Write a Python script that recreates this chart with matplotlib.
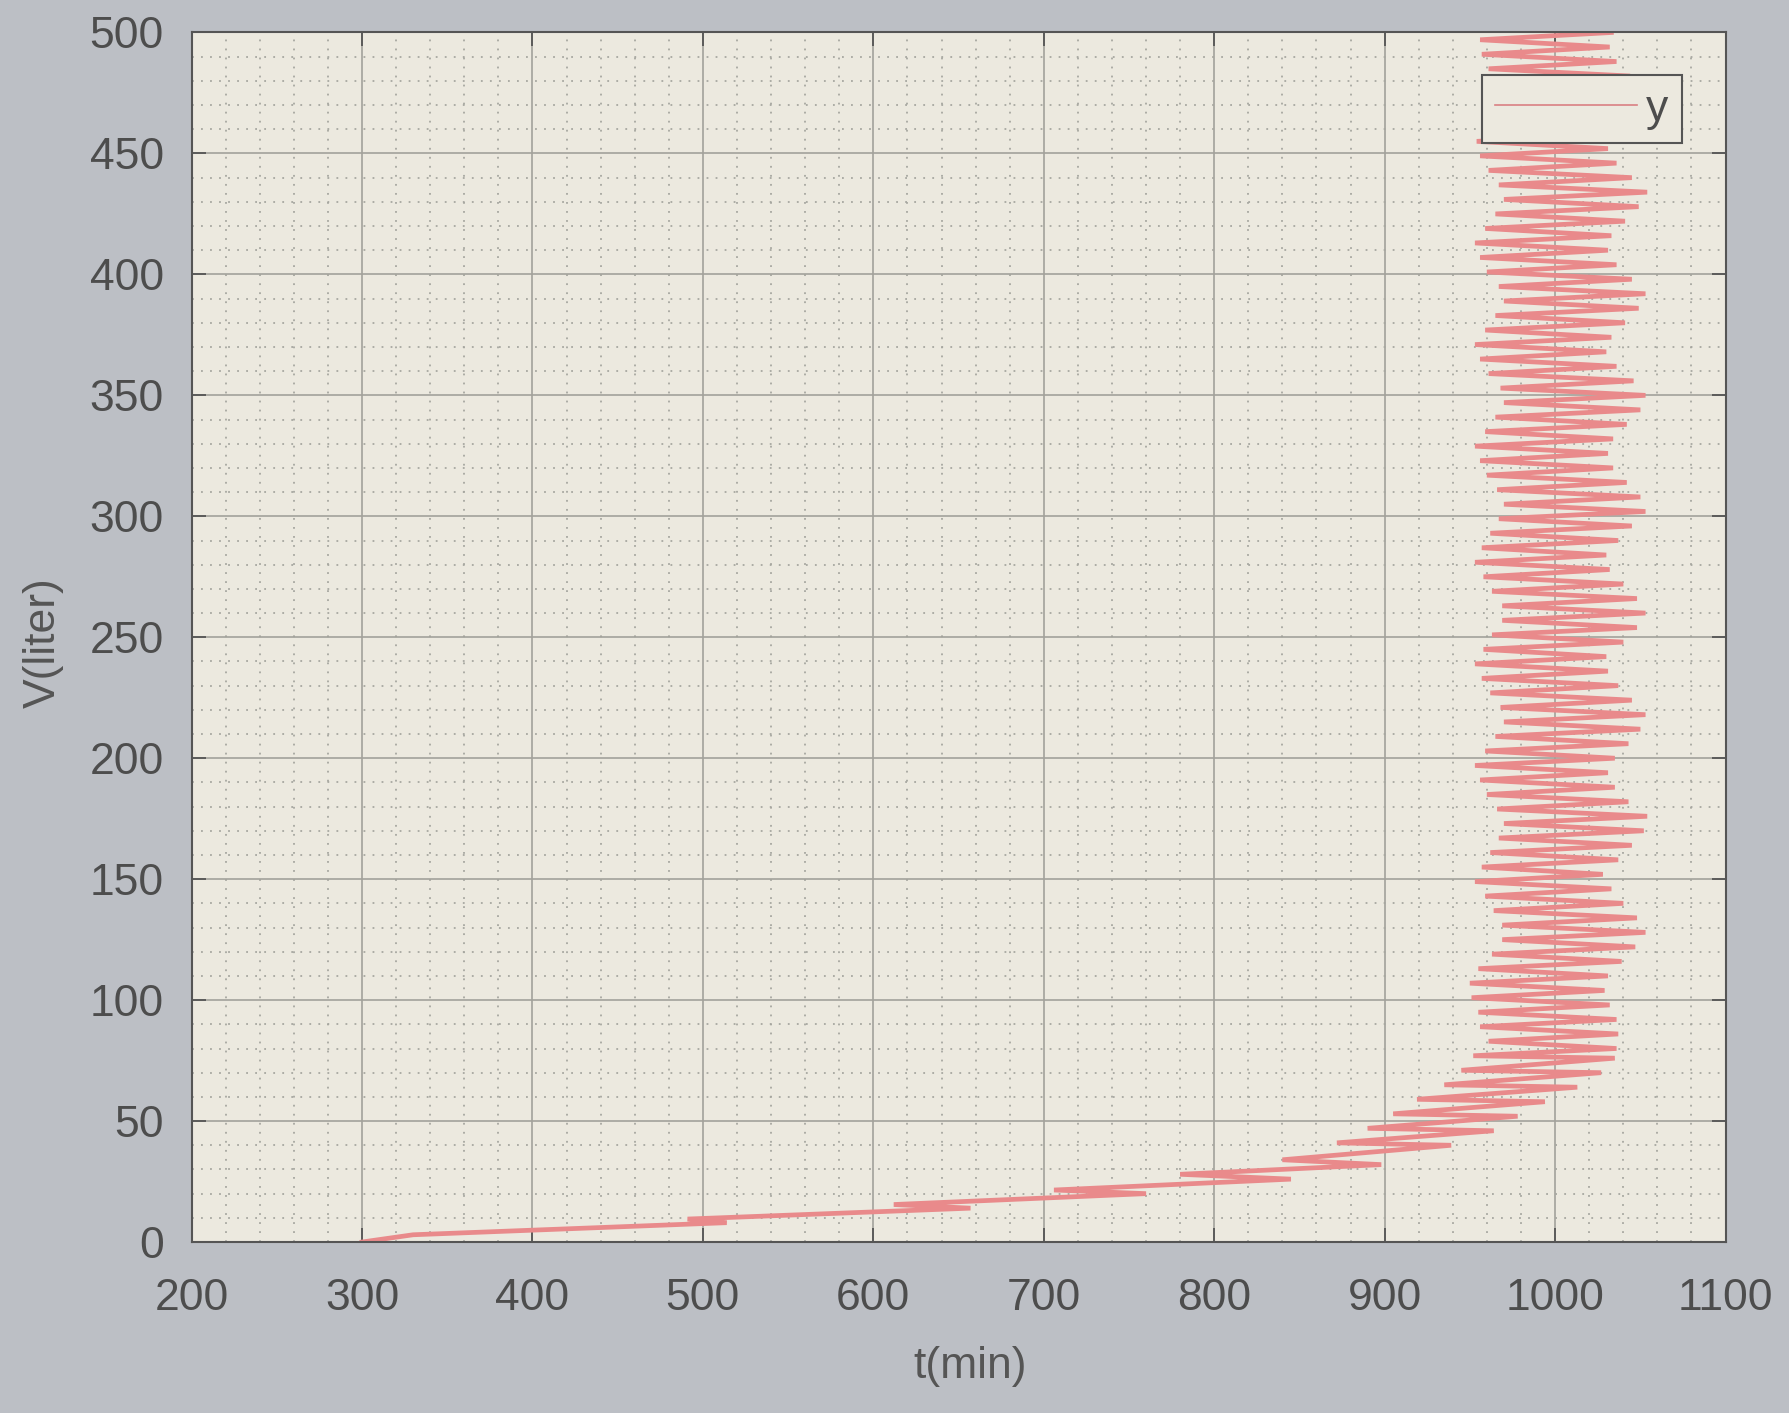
import matplotlib
matplotlib.use("Agg")
import matplotlib.pyplot as plt
from matplotlib.ticker import MultipleLocator

plt.rcParams["font.family"] = ["Liberation Sans", "DejaVu Sans"]

# start of the curve: long sweep up from t~300 (turning points)
tail_t = [300, 330, 514, 491, 657, 612, 760, 706, 845, 780, 898, 840,
          939, 872, 964, 890, 978, 905, 994, 919, 1013, 935, 1027, 945, 1035, 952]
tail_v = [0, 3, 8, 9.5, 14, 15.5, 20, 21.5, 26, 28, 32, 34,
          40, 41, 46, 47, 52, 53, 58, 59, 64, 65, 70, 71, 76, 77]

# right-hand turning points of the oscillating band
right_v = [80, 86, 92, 98, 104, 110, 116, 122, 128, 134, 140, 146, 152, 158,
           164, 170, 176, 182, 188, 194, 200, 206, 212, 218, 224, 230, 236, 242,
           248, 254, 260, 266, 272, 278, 284, 290, 296, 302, 308, 314, 320, 326,
           332, 338, 344, 350, 356, 362, 368, 374, 380, 386, 392, 398, 404, 410,
           416, 422, 428, 434, 440, 446, 452, 458, 464, 470, 476, 482, 488, 494, 500]
right_t = [1036, 1037, 1036, 1032, 1029, 1031, 1039, 1047, 1053, 1048,
           1040, 1033, 1028, 1037, 1045, 1052, 1054, 1043, 1035, 1031,
           1035, 1043, 1050, 1053, 1045, 1037, 1031, 1030, 1040, 1048,
           1053, 1048, 1040, 1032, 1030, 1037, 1045, 1053, 1050, 1042,
           1034, 1031, 1034, 1042, 1050, 1053, 1046, 1036, 1030, 1033,
           1041, 1049, 1053, 1045, 1036, 1031, 1033, 1041, 1049, 1054,
           1045, 1036, 1031, 1034, 1042, 1049, 1051, 1044, 1036, 1032, 1033]

# left-hand turning points of the oscillating band
left_v = [83, 89, 95, 101, 107, 113, 119, 125, 131, 137, 143, 149, 155, 161,
          167, 173, 179, 185, 191, 197, 203, 209, 215, 221, 227, 233, 239, 245,
          251, 257, 263, 269, 275, 281, 287, 293, 299, 305, 311, 317, 323, 329,
          335, 341, 347, 353, 359, 365, 371, 377, 383, 389, 395, 401, 407, 413,
          419, 425, 431, 437, 443, 449, 455, 461, 467, 473, 479, 485, 491, 497]
left_t = [961, 956, 955, 951, 950, 955, 963, 969, 969, 964,
          959, 953, 957, 962, 967, 970, 966, 960, 956, 953,
          959, 965, 970, 968, 962, 957, 953, 958, 963, 969,
          969, 963, 958, 953, 957, 962, 967, 970, 966, 960,
          956, 953, 959, 965, 970, 968, 961, 956, 953, 959,
          965, 970, 967, 960, 956, 953, 959, 965, 970, 967,
          961, 956, 954, 958, 964, 969, 967, 961, 957, 956]

band = sorted(zip(right_v + left_v, right_t + left_t))
V = tail_v + [p[0] for p in band]
T = tail_t + [p[1] for p in band]

fig = plt.figure(figsize=(17.9, 14.13), dpi=100, facecolor="#bcbfc5")
ax = fig.add_axes([0.107, 0.121, 0.857, 0.856], facecolor="#ece9df")

ax.plot(T, V, color="#e98a8b", lw=3.4, label="y", solid_joinstyle="miter")

ax.set_xlim(200, 1100)
ax.set_ylim(0, 500)
ax.xaxis.set_major_locator(MultipleLocator(100))
ax.yaxis.set_major_locator(MultipleLocator(50))
ax.xaxis.set_minor_locator(MultipleLocator(20))
ax.yaxis.set_minor_locator(MultipleLocator(10))
ax.grid(which="major", color="#a2a29b", lw=1.2, ls="-")
ax.grid(which="minor", color="#a7a7a0", lw=1.3, ls=(0, (1, 4)))
ax.set_axisbelow(True)

ax.tick_params(which="major", direction="in", length=10, width=1.3,
               color="#555555", top=True, right=True,
               labelsize=32, labelcolor="#4d4d4d")
ax.tick_params(axis="x", pad=26)
ax.tick_params(axis="y", pad=20)
ax.tick_params(which="minor", length=0)
for s in ax.spines.values():
    s.set_color("#555555")
    s.set_linewidth(1.5)

fig.text(0.024, 0.545, "V(liter)", rotation=90, ha="center", va="center",
         fontsize=32, color="#555555")
fig.text(0.542, 0.033, "t(min)", ha="center", va="center",
         fontsize=32, color="#555555")

leg = ax.legend(loc="upper right", bbox_to_anchor=(1 - 44 / 1534, 1 - 43 / 1210),
                fontsize=32, frameon=True, fancybox=False, framealpha=1,
                facecolor="#ece9df", edgecolor="#555555", borderpad=0.3,
                handlelength=3.2, handletextpad=0.2, borderaxespad=0)
leg.get_frame().set_linewidth(1.5)
leg.get_lines()[0].set_linewidth(1.2)
leg.get_lines()[0].set_color("#d98083")
for txt in leg.get_texts():
    txt.set_color("#4d4d4d")

fig.savefig("out.png", dpi=100, facecolor=fig.get_facecolor())
